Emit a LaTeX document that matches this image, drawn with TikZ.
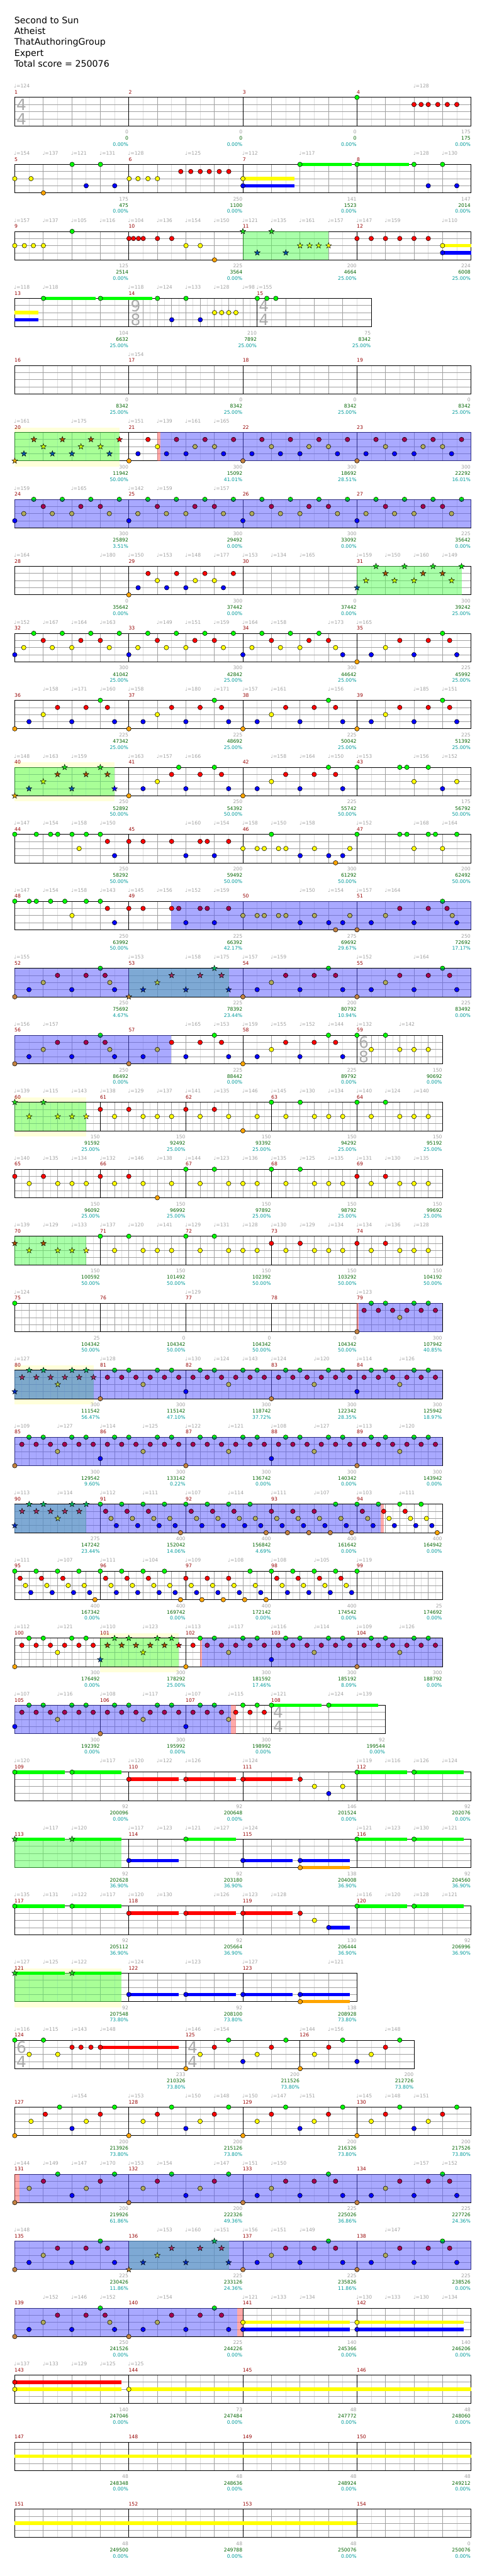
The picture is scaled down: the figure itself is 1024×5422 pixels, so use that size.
\documentclass[tikz,border=0pt]{standalone}
\usepackage{fontspec}
\setmainfont{DejaVu Sans}
\definecolor{cg}{RGB}{0,255,0}
\definecolor{cr}{RGB}{255,0,0}
\definecolor{cy}{RGB}{255,255,0}
\definecolor{cb}{RGB}{0,0,255}
\definecolor{co}{RGB}{255,165,0}
\definecolor{cGd}{RGB}{0,150,90}
\definecolor{cR}{RGB}{165,0,80}
\definecolor{cY}{RGB}{175,170,90}
\definecolor{cO}{RGB}{195,130,65}
\definecolor{csg}{RGB}{30,225,30}
\definecolor{csr}{RGB}{170,80,0}
\definecolor{csy}{RGB}{200,255,0}
\definecolor{csb}{RGB}{0,85,170}
\definecolor{cso}{RGB}{230,170,0}
\definecolor{ctg}{RGB}{0,185,90}
\definecolor{ctr}{RGB}{165,45,95}
\definecolor{cty}{RGB}{170,200,70}
\definecolor{ctb}{RGB}{0,45,190}
\definecolor{cto}{RGB}{200,140,50}
\definecolor{tgray}{RGB}{160,160,160}
\definecolor{mred}{RGB}{150,0,0}
\definecolor{dgreen}{RGB}{0,100,0}
\definecolor{tealc}{RGB}{0,155,155}
\definecolor{lgray}{RGB}{222,222,222}
\definecolor{dgray}{RGB}{160,160,160}
\definecolor{tsgray}{RGB}{170,170,170}
\definecolor{ovg}{RGB}{85,255,85}
\definecolor{ovb}{RGB}{85,85,255}
\definecolor{ovp}{RGB}{255,85,85}
\definecolor{ybg}{RGB}{255,255,218}
\tikzset{
 lightl/.style={draw=lgray, line width=0.9pt},
 darkl/.style={draw=dgray, line width=0.9pt},
 ml/.style={draw=black, line width=1pt},
 nt/.style={draw=black, line width=0.7pt},
 smallf/.style={font=\fontsize{10.2}{12}\selectfont, inner sep=0pt},
 tempo/.style={smallf, text=tgray, anchor=base west},
 mnum/.style={smallf, text=mred, anchor=base west},
 lba/.style={smallf, text=tgray, anchor=base east},
 lbb/.style={smallf, text=dgreen, anchor=base east},
 lbc/.style={smallf, text=tealc, anchor=base east},
 tsig/.style={font=\fontsize{33}{33}\selectfont, text=tsgray, inner sep=0pt, anchor=base west},
 ttl/.style={font=\fontsize{18.8}{22}\selectfont, inner sep=0pt, anchor=base west},
 greenov/.style={fill=ovg, fill opacity=0.5},
 blueov/.style={fill=ovb, fill opacity=0.5},
 pinkov/.style={fill=ovp, fill opacity=0.5},
 yellowbg/.style={fill=ybg},
 pics/dot/.style={code={\filldraw[nt,fill=#1] (0pt,0pt) circle[radius=4.8pt];}},
 pics/starp/.style={code={\filldraw[nt,line width=0.6pt,fill=#1] (90:6.3pt) -- (126:2.6pt) -- (162:6.3pt) -- (198:2.6pt) -- (234:6.3pt) -- (270:2.6pt) -- (306:6.3pt) -- (342:2.6pt) -- (18:6.3pt) -- (54:2.6pt) -- cycle;}},
 pics/ntg/.style={code={\pic{dot=cg};}},
 pics/ntr/.style={code={\pic{dot=cr};}},
 pics/nty/.style={code={\pic{dot=cy};}},
 pics/ntb/.style={code={\pic{dot=cb};}},
 pics/nto/.style={code={\pic{dot=co};}},
 pics/ntG/.style={code={\fill[cg] (-4.8pt,0pt) arc[start angle=180,end angle=0,radius=4.8pt] -- cycle; \fill[cGd] (4.8pt,0pt) arc[start angle=0,end angle=-180,radius=4.8pt] -- cycle; \draw[nt] (0pt,0pt) circle[radius=4.8pt];}},
 pics/ntR/.style={code={\pic{dot=cR};}},
 pics/ntY/.style={code={\pic{dot=cY};}},
 pics/ntB/.style={code={\pic{dot=cb};}},
 pics/ntO/.style={code={\pic{dot=cO};}},
 pics/ntsg/.style={code={\pic{starp=csg};}},
 pics/ntsr/.style={code={\pic{starp=csr};}},
 pics/ntsy/.style={code={\pic{starp=csy};}},
 pics/ntsb/.style={code={\pic{starp=csb};}},
 pics/ntso/.style={code={\pic{starp=cso};}},
 pics/ntpg/.style={code={\pic{starp=cg};}},
 pics/ntpr/.style={code={\pic{starp=cr};}},
 pics/ntpy/.style={code={\pic{starp=cy};}},
 pics/ntpb/.style={code={\pic{starp=cb};}},
 pics/nttg/.style={code={\pic{starp=ctg};}},
 pics/nttr/.style={code={\pic{starp=ctr};}},
 pics/ntty/.style={code={\pic{starp=cty};}},
 pics/nttb/.style={code={\pic{starp=ctb};}},
 pics/ntto/.style={code={\pic{starp=cto};}},
}
\def\lng{0}\def\lnr{15}\def\lny{30}\def\lnb{45}\def\lno{60}
\def\lnG{0}\def\lnR{15}\def\lnY{30}\def\lnB{45}\def\lnO{60}
\def\lnsg{0}\def\lnsr{15}\def\lnsy{30}\def\lnsb{45}\def\lnso{60}
\def\lnpg{0}\def\lnpr{15}\def\lnpy{30}\def\lnpb{45}
\def\lntg{0}\def\lntr{15}\def\lnty{30}\def\lntb{45}\def\lnto{60}
\newcount\nn
\newcommand\Mz[4]{%
 \pgfmathtruncatemacro\nA{#2/#3-1}%
 \foreach \kk in {1,...,\nA}{\draw[lightl] ({#1+\kk*#3},0) -- ({#1+\kk*#3},60);}%
 \pgfmathtruncatemacro\nB{#2/#4-1}%
 \foreach \kk in {1,...,\nB}{\draw[darkl] ({#1+\kk*#4},0) -- ({#1+\kk*#4},60);}%
}
\newcommand\Qm[1]{\Mz{#1}{240}{30}{60}}
\newcommand\Em[1]{\Mz{#1}{180}{15}{30}}
\newcommand\Fr[2]{%
 \foreach \lv in {15,30,45}{\draw[darkl] (31,\lv) -- (#1,\lv);}%
 \foreach \mx in {#2}{\draw[ml] (\mx,0) -- (\mx,60);}%
 \draw[ml] (31,0) rectangle (#1,60);}
\newcommand\Four{\Qm{31}\Qm{271}\Qm{511}\Qm{751}\Fr{991}{271,511,751}}
\newcommand\Five{\Em{31}\Em{211}\Em{391}\Em{571}\Em{751}\Fr{931}{211,391,571,751}}
\newcommand\Yb[2]{\fill[yellowbg] (#1,-10) rectangle (#2,72);}
\newcommand\Gr[2]{\fill[greenov] (#1,0) rectangle (#2,60);}
\newcommand\Bl[2]{\fill[blueov] (#1,0) rectangle (#2,60);}
\newcommand\Pk[2]{\fill[pinkov] (#1,0) rectangle (#2,60);}
\newcommand\ns[2]{\edef\yy{\csname ln#1\endcsname}\foreach \xx in {#2}{\pic at (\xx,\yy) {nt#1};}}
\newcommand\nso[3]{\edef\yy{\csname ln#1\endcsname}\foreach \xx in {#3}{\pic at ({#2+\xx},\yy) {nt#1};}}
\newcommand\su[3]{\edef\yy{\csname ln#1\endcsname}\fill[c#1] (#2,\yy-3.6) rectangle (#3,\yy+3.6);}
\newcommand\Gq[5]{\nso{#2}{#1}{0}\nso{#3}{#1}{11.25}\nso{#4}{#1}{22.5}\nso{#5}{#1}{33.75}}
\newcommand\TS[3]{\global\advance\nn1 \node[tsig] (n\the\nn) at (#1+3.5,27.3) {#2};\global\advance\nn1 \node[tsig] (n\the\nn) at (#1+3.5,57.3) {#3};}
\newcommand\Tp[2]{\global\advance\nn1 \node[tempo] (n\the\nn) at (#1-1.5,-19.7) {♩=#2};}
\newcommand\Mn[2]{\global\advance\nn1 \node[mnum] (n\the\nn) at (#1-0.5,-7) {#2};}
\newcommand\Lb[4]{\global\advance\nn1 \node[lba] (n\the\nn) at (#1-0.8,76.7) {#2};\global\advance\nn1 \node[lbb] (n\the\nn) at (#1-0.8,90) {#3};\global\advance\nn1 \node[lbc] (n\the\nn) at (#1-0.8,102.7) {#4\%};}
\newcommand\PAn[1]{\nso{b}{#1}{0}\nso{y}{#1}{19,79,120,199}\nso{g}{#1}{40,100,160,220}\nso{r}{#1}{60,139,180}}
\newcommand\PAo[1]{\nso{B}{#1}{0}\nso{Y}{#1}{19,79,120,199}\nso{G}{#1}{40,100,160,220}\nso{R}{#1}{60,139,180}}
\newcommand\PBn[1]{\nso{o}{#1}{0}\nso{b}{#1}{30,120,210}\nso{y}{#1}{60}\nso{r}{#1}{90,150,195}\nso{g}{#1}{180}}
\newcommand\PBo[1]{\nso{O}{#1}{0}\nso{B}{#1}{30,120,210}\nso{Y}{#1}{60}\nso{R}{#1}{90,150,195}\nso{G}{#1}{180}}
\newcommand\PCo[1]{\nso{O}{#1}{0}\nso{B}{#1}{30,120,210}\nso{Y}{#1}{60,200}\nso{R}{#1}{90,150,190}\nso{G}{#1}{180}}
\newcommand\PDn[1]{\nso{r}{#1}{15,45,75,105,135,165}\nso{g}{#1}{30,60,120,150}\nso{y}{#1}{90}}
\newcommand\PDo[1]{\nso{R}{#1}{15,45,75,105,135,165}\nso{G}{#1}{30,60,120,150}\nso{Y}{#1}{90}}
\newcommand\PEo[1]{\nso{O}{#1}{0}\nso{B}{#1}{19,79,120,199}\nso{R}{#1}{40,100,160,220}\nso{Y}{#1}{60,139,180}}
\begin{document}
\begin{tikzpicture}[x=1pt,y=-1pt]
\fill[white] (0,0) rectangle (1024,5422);
\useasboundingbox (0,0) rectangle (1024,5422);
\node[ttl] (t1) at (30,49.3) {Second to Sun};
\node[ttl] (t2) at (30,72.3) {Atheist};
\node[ttl] (t3) at (30,95.3) {ThatAuthoringGroup};
\node[ttl] (t4) at (30,118.3) {Expert};
\node[ttl] (t5) at (30,141.3) {Total score = 250076};
% row 0
\begin{scope}[shift={(0,205)}]
\Four\TS{31}{4}{4}
\ns{g}{751}\ns{r}{871,886,901,921,941,961}
\Tp{31}{124}\Tp{871}{128}
\Mn{31}{1}\Mn{271}{2}\Mn{511}{3}\Mn{751}{4}
\Lb{271}{0}{0}{0.00}\Lb{511}{0}{0}{0.00}\Lb{751}{0}{0}{0.00}\Lb{991}{175}{175}{0.00}
\end{scope}
% row 1
\begin{scope}[shift={(0,346)}]
\Four
\su{y}{511}{620}\su{b}{511}{620}\su{g}{631}{740}\su{g}{751}{860}
\ns{y}{31,65.3,271.7,290.3,311.3,331.3,511}\ns{g}{151.7,211.3,631,751,871,931}
\ns{b}{181.3,241.3,511,901,961}\ns{o}{91.3}\ns{r}{380.3,401.3,421.3,440.3,461.3,481.3}
\Tp{31}{154}\Tp{91}{137}\Tp{151}{121}\Tp{211}{131}\Tp{271}{128}\Tp{391}{125}\Tp{511}{112}\Tp{631}{117}\Tp{871}{128}\Tp{931}{130}
\Mn{31}{5}\Mn{271}{6}\Mn{511}{7}\Mn{751}{8}
\Lb{271}{175}{475}{0.00}\Lb{511}{250}{1100}{0.00}\Lb{751}{141}{1523}{0.00}\Lb{991}{147}{2014}{0.00}
\end{scope}
% row 2
\begin{scope}[shift={(0,487)}]
\Four\Gr{511}{691.3}
\su{y}{931}{991}\su{b}{931}{991}
\ns{y}{31,51.3,70.3,91.3,391.3,421.3,931}\ns{g}{151.7}
\ns{r}{271.3,280.7,291.3,301.3,331.3,361.3,751,781,811,841,871,901}\ns{o}{451.3}\ns{b}{931}
\ns{sg}{511,571.3}\ns{sb}{541.3,601.3}\ns{sy}{631.3,651.3,670.3}\ns{py}{691.3}
\Tp{31}{157}\Tp{91}{137}\Tp{151}{105}\Tp{211}{116}\Tp{271}{104}\Tp{331}{136}\Tp{391}{154}\Tp{451}{150}\Tp{511}{121}\Tp{571}{135}\Tp{631}{161}\Tp{691}{157}\Tp{751}{147}\Tp{811}{159}\Tp{931}{110}
\Mn{31}{9}\Mn{271}{10}\Mn{511}{11}\Mn{751}{12}
\Lb{271}{125}{2514}{0.00}\Lb{511}{225}{3564}{0.00}\Lb{751}{200}{4664}{25.00}\Lb{991}{224}{6008}{25.00}
\end{scope}
% row 3
\begin{scope}[shift={(0,628)}]
\Qm{31}\Mz{271}{270}{15}{30}\Qm{541}\Fr{781}{271,541}\TS{271}{9}{8}\TS{541}{4}{4}
\su{y}{31}{81}\su{b}{31}{81}\su{g}{91.3}{201}\su{g}{211.3}{321}
\ns{g}{91.3,211.3,331.3,391.3,541.3,561.3,580.3}\ns{b}{361.3,421.3}\ns{y}{451.3,466.3,481.3,496.3}
\Tp{31}{118}\Tp{91}{118}\Tp{271}{118}\Tp{331}{124}\Tp{391}{133}\Tp{451}{128}\Tp{511}{98}\Tp{541}{155}
\Mn{31}{13}\Mn{271}{14}\Mn{541}{15}
\Lb{271}{104}{6632}{25.00}\Lb{541}{210}{7892}{25.00}\Lb{781}{75}{8342}{25.00}
\end{scope}
% row 4
\begin{scope}[shift={(0,769)}]
\Four
\Tp{271}{154}
\Mn{31}{16}\Mn{271}{17}\Mn{511}{18}\Mn{751}{19}
\Lb{271}{0}{8342}{25.00}\Lb{511}{0}{8342}{25.00}\Lb{751}{0}{8342}{25.00}\Lb{991}{0}{8342}{25.00}
\end{scope}
% row 5
\begin{scope}[shift={(0,910)}]
\Yb{31}{251}\Four\Gr{31}{251}\Pk{331.3}{337.7}\Bl{337.7}{991}
\ns{so}{31}\ns{sb}{50.3,110.3,151.3,230.3}\ns{sr}{71.3,131.3,191.3}\ns{sy}{91.3,170.3,211.3}\ns{pr}{251.3}
\ns{o}{271.3}\ns{b}{290.3}\ns{r}{311.3}\ns{y}{331.3}\ns{B}{350.3,391.3,470.3}\ns{R}{371.3,431.3,491.3}\ns{Y}{410.3,451.3}
\PEo{511}\PEo{751}
\Tp{31}{161}\Tp{151}{175}\Tp{271}{151}\Tp{331}{139}\Tp{391}{161}\Tp{451}{165}
\Mn{31}{20}\Mn{271}{21}\Mn{511}{22}\Mn{751}{23}
\Lb{271}{300}{11942}{50.00}\Lb{511}{300}{15092}{41.01}\Lb{751}{300}{18692}{28.51}\Lb{991}{300}{22292}{16.01}
\end{scope}
% row 6
\begin{scope}[shift={(0,1051)}]
\Four\Bl{31}{991}
\PAo{31}\PAo{271}\PAo{511}\PAo{751}
\Tp{31}{159}\Tp{151}{165}\Tp{271}{142}\Tp{331}{159}\Tp{451}{157}
\Mn{31}{24}\Mn{271}{25}\Mn{511}{26}\Mn{751}{27}
\Lb{271}{300}{25892}{3.51}\Lb{511}{300}{29492}{0.00}\Lb{751}{300}{33092}{0.00}\Lb{991}{225}{35642}{0.00}
\end{scope}
% row 7
\begin{scope}[shift={(0,1192)}]
\Four\Gr{751}{971}
\ns{o}{271}\ns{b}{290.6,350.7,391,470}\ns{r}{311.5,371.6,431,491}\ns{y}{331,410.8,451}
\nso{sb}{751}{0}\nso{sy}{751}{19,79,120,199}\nso{sg}{751}{40,100,160}\nso{sr}{751}{60,139,180}\ns{pg}{971}
\Tp{31}{164}\Tp{211.6}{180}\Tp{271}{150}\Tp{331}{153}\Tp{391}{148}\Tp{451}{177}\Tp{511}{153}\Tp{571}{134}\Tp{631.5}{165}\Tp{751}{159}\Tp{811}{150}\Tp{871}{160}\Tp{931}{149}
\Mn{31}{28}\Mn{271}{29}\Mn{511}{30}\Mn{751}{31}
\Lb{271}{0}{35642}{0.00}\Lb{511}{300}{37442}{0.00}\Lb{751}{0}{37442}{0.00}\Lb{991}{300}{39242}{25.00}
\end{scope}
% row 8
\begin{scope}[shift={(0,1333)}]
\Four
\PAn{31}\PAn{271}
\nso{b}{511}{0,210}\nso{y}{511}{19,79,120,195}\nso{g}{511}{40,100,160}\nso{r}{511}{60,139,180}
\PBn{751}
\Tp{31}{152}\Tp{91.4}{167}\Tp{151.5}{164}\Tp{211.6}{163}\Tp{331}{149}\Tp{391}{151}\Tp{451}{159}\Tp{511}{164}\Tp{571}{158}\Tp{691.6}{173}\Tp{751}{165}
\Mn{31}{32}\Mn{271}{33}\Mn{511}{34}\Mn{751}{35}
\Lb{271}{300}{41042}{25.00}\Lb{511}{300}{42842}{25.00}\Lb{751}{300}{44642}{25.00}\Lb{991}{225}{45992}{25.00}
\end{scope}
% row 9
\begin{scope}[shift={(0,1474)}]
\Four
\PBn{31}\PBn{271}\PBn{511}\PBn{751}
\Tp{91.4}{158}\Tp{151.5}{171}\Tp{211.6}{160}\Tp{271}{158}\Tp{391}{180}\Tp{451}{171}\Tp{511}{157}\Tp{571}{161}\Tp{691.6}{156}\Tp{871}{185}\Tp{931}{151}
\Mn{31}{36}\Mn{271}{37}\Mn{511}{38}\Mn{751}{39}
\Lb{271}{225}{47342}{25.00}\Lb{511}{225}{48692}{25.00}\Lb{751}{225}{50042}{25.00}\Lb{991}{225}{51392}{25.00}
\end{scope}
% row 10
\begin{scope}[shift={(0,1615)}]
\Yb{31}{241}\Four\Gr{31}{241}
\nso{so}{31}{0}\nso{sb}{31}{30,120}\nso{sy}{31}{60}\nso{sr}{31}{90,150,195}\nso{sg}{31}{105,180}\ns{pb}{241}
\PBn{271}\ns{g}{376}\PBn{511}
\ns{g}{751,841,856,901}\ns{y}{871,961}\ns{b}{931}
\Tp{31}{148}\Tp{91.4}{163}\Tp{151.5}{159}\Tp{271}{163}\Tp{331}{157}\Tp{391}{166}\Tp{571}{158}\Tp{631.5}{164}\Tp{691.6}{150}\Tp{751}{153}\Tp{871}{156}\Tp{931}{152}
\Mn{31}{40}\Mn{271}{41}\Mn{511}{42}\Mn{751}{43}
\Lb{271}{250}{52892}{50.00}\Lb{511}{250}{54392}{50.00}\Lb{751}{225}{55742}{50.00}\Lb{991}{175}{56792}{50.00}
\end{scope}
% row 11
\begin{scope}[shift={(0,1756)}]
\Four
\ns{g}{31,76.4,106.4,121.5,151.5,181.5,211,571,751,841,856,901,916,961}
\ns{y}{166.5,511,541,556,586,601.5,661.6,736,871,931}
\ns{r}{226,271,301,361,421,436,481}\ns{b}{241,391,451,631.5,691.6,721}\ns{o}{706}
\Tp{31}{147}\Tp{91.4}{154}\Tp{151.5}{158}\Tp{211.6}{150}\Tp{391}{160}\Tp{451}{154}\Tp{511}{158}\Tp{571}{150}\Tp{631.5}{158}\Tp{751}{152}\Tp{871}{168}\Tp{931}{164}
\Mn{31}{44}\Mn{271}{45}\Mn{511}{46}\Mn{751}{47}
\Lb{271}{250}{58292}{50.00}\Lb{511}{200}{59492}{50.00}\Lb{751}{300}{61292}{50.00}\Lb{991}{200}{62492}{50.00}
\end{scope}
% row 12
\begin{scope}[shift={(0,1897)}]
\Four\Bl{360}{991}
\ns{g}{31,61.4,76.4,106.4,136.5,181.5,211}\ns{y}{151.5}\ns{r}{226,271,301,361}\ns{b}{241}
\ns{R}{376,421,436,481,841,901,940.4}\ns{B}{391,451,631.5,691.6,721,781,871,961}
\ns{Y}{511,541,556,586,601.5,661.6,736,811,951.5}\ns{O}{706,751}\ns{G}{931}
\Tp{31}{147}\Tp{91.4}{154}\Tp{151.5}{158}\Tp{211.6}{143}\Tp{271}{145}\Tp{331}{156}\Tp{391}{152}\Tp{451}{159}\Tp{631.5}{150}\Tp{691.6}{154}\Tp{751}{157}\Tp{811}{164}
\Mn{31}{48}\Mn{271}{49}\Mn{511}{50}\Mn{751}{51}
\Lb{271}{250}{63992}{50.00}\Lb{511}{225}{66392}{42.17}\Lb{751}{275}{69692}{29.67}\Lb{991}{250}{72692}{17.17}
\end{scope}
% row 13
\begin{scope}[shift={(0,2038)}]
\Four\Gr{271}{482}\Bl{31}{991}
\PCo{31}
\ns{to}{271}\ns{tb}{301,391,481}\ns{ty}{331}\ns{tr}{361,421,466}\ns{tg}{451}
\PBo{511}\PBo{751}
\Tp{31}{155}\Tp{271}{153}\Tp{391}{158}\Tp{451}{175}\Tp{511}{157}\Tp{571}{159}\Tp{751}{152}\Tp{871}{164}
\Mn{31}{52}\Mn{271}{53}\Mn{511}{54}\Mn{751}{55}
\Lb{271}{250}{75692}{4.67}\Lb{511}{225}{78392}{23.44}\Lb{751}{200}{80792}{10.94}\Lb{991}{225}{83492}{0.00}
\end{scope}
% row 14
\begin{scope}[shift={(0,2179)}]
\Qm{31}\Qm{271}\Qm{511}\Em{751}\Fr{931}{271,511,751}\TS{751}{6}{8}\Bl{31}{360}
\PCo{31}
\ns{O}{271}\ns{B}{301}\ns{Y}{331}\ns{r}{361,421,466}\ns{b}{391,481}\ns{g}{451}
\PBn{511}
\ns{g}{751,811}\ns{y}{781,841,871,901}
\Tp{31}{156}\Tp{91.4}{157}\Tp{391}{165}\Tp{451}{153}\Tp{511}{159}\Tp{571}{155}\Tp{631.5}{152}\Tp{691.6}{144}\Tp{751}{132}\Tp{841}{142}
\Mn{31}{56}\Mn{271}{57}\Mn{511}{58}\Mn{751}{59}
\Lb{271}{250}{86492}{0.00}\Lb{511}{225}{88442}{0.00}\Lb{751}{225}{89792}{0.00}\Lb{931}{150}{90692}{0.00}
\end{scope}
% row 15
\begin{scope}[shift={(0,2320)}]
\Yb{31}{181.5}\Five\Gr{31}{181.5}
\ns{sg}{31,91.4}\ns{sy}{61.4,121.5,151.5}\ns{py}{181.5}
\ns{r}{211,271,391,451}\ns{y}{241,301,331,361,421,481,541,601.5,661.6,691.6,721,781,841,871,901}\ns{o}{511}\ns{g}{571,631.5,751,811}
\Tp{31}{139}\Tp{91.4}{115}\Tp{151.5}{143}\Tp{211.6}{138}\Tp{271}{129}\Tp{331}{137}\Tp{391}{141}\Tp{451}{135}\Tp{511}{146}\Tp{571}{145}\Tp{631.5}{130}\Tp{691.6}{134}\Tp{751}{140}\Tp{811}{124}\Tp{871}{140}
\Mn{31}{60}\Mn{211}{61}\Mn{391}{62}\Mn{571}{63}\Mn{751}{64}
\Lb{211}{150}{91592}{25.00}\Lb{391}{150}{92492}{25.00}\Lb{571}{150}{93392}{25.00}\Lb{751}{150}{94292}{25.00}\Lb{931}{150}{95192}{25.00}
\end{scope}
% row 16
\begin{scope}[shift={(0,2461)}]
\Five
\ns{r}{31,91.4,211,271,751,811}
\ns{y}{61.4,121.5,151.5,181.5,241,301,361,421,481,511,541,601.5,661.6,691.6,721,781,841,871,901}
\ns{o}{331}\ns{g}{391,451,571,631.5}
\Tp{31}{140}\Tp{91.4}{135}\Tp{151.5}{134}\Tp{211.6}{132}\Tp{271}{146}\Tp{331}{138}\Tp{391}{144}\Tp{451}{123}\Tp{511}{136}\Tp{571}{135}\Tp{631.5}{125}\Tp{691.6}{135}\Tp{751}{131}\Tp{811}{130}\Tp{871}{135}
\Mn{31}{65}\Mn{211}{66}\Mn{391}{67}\Mn{571}{68}\Mn{751}{69}
\Lb{211}{150}{96092}{25.00}\Lb{391}{150}{96992}{25.00}\Lb{571}{150}{97892}{25.00}\Lb{751}{150}{98792}{25.00}\Lb{931}{150}{99692}{25.00}
\end{scope}
% row 17
\begin{scope}[shift={(0,2602)}]
\Five\Gr{31}{181.5}
\ns{sr}{31,91.4}\ns{sy}{61.4,121.5,151.5}\ns{py}{181.5}
\ns{g}{211,271,391,451}\ns{r}{571,631.5,751,811}
\ns{y}{241,301,331,361,421,481,511,541,601.5,661.6,691.6,721,781,841,871,901}
\Tp{31}{139}\Tp{91.4}{129}\Tp{151.5}{133}\Tp{211.6}{137}\Tp{271}{120}\Tp{331}{141}\Tp{391}{129}\Tp{451}{131}\Tp{511}{128}\Tp{571}{130}\Tp{631.5}{129}\Tp{691.6}{134}\Tp{751}{134}\Tp{811}{136}\Tp{871}{128}
\Mn{31}{70}\Mn{211}{71}\Mn{391}{72}\Mn{571}{73}\Mn{751}{74}
\Lb{211}{150}{100592}{50.00}\Lb{391}{150}{101492}{50.00}\Lb{571}{150}{102392}{50.00}\Lb{751}{150}{103292}{50.00}\Lb{931}{150}{104192}{50.00}
\end{scope}
% row 18
\begin{scope}[shift={(0,2743)}]
\Five\Pk{751}{755}\Bl{755}{931}
\ns{g}{31}\ns{O}{751}\ns{G}{781,811,871,901}\ns{R}{766,796,826,856,886,916}\ns{Y}{841}
\Tp{31}{124}\Tp{391}{129}\Tp{751}{123}
\Mn{31}{75}\Mn{211}{76}\Mn{391}{77}\Mn{571}{78}\Mn{751}{79}
\Lb{211}{25}{104342}{50.00}\Lb{391}{0}{104342}{50.00}\Lb{571}{0}{104342}{50.00}\Lb{751}{0}{104342}{50.00}\Lb{931}{300}{107942}{40.85}
\end{scope}
% row 19
\begin{scope}[shift={(0,2884)}]
\Yb{31}{196.6}\Five\Gr{31}{196.6}\Bl{31}{931}
\ns{tb}{31}\ns{tg}{61.4,91.4,151.5,181.5}\ns{tr}{46.4,76.4,106.4,136.5,166.5,196.6}\ns{ty}{121.5}
\ns{O}{211}\PDo{211}\ns{B}{391}\PDo{391}\ns{O}{571}\PDo{571}\ns{B}{751}\PDo{751}
\Tp{31}{127}\Tp{211.6}{128}\Tp{391}{130}\Tp{451}{124}\Tp{511}{143}\Tp{571}{124}\Tp{661.6}{120}\Tp{751}{114}\Tp{841}{126}
\Mn{31}{80}\Mn{211}{81}\Mn{391}{82}\Mn{571}{83}\Mn{751}{84}
\Lb{211}{300}{111542}{56.47}\Lb{391}{300}{115142}{47.10}\Lb{571}{300}{118742}{37.72}\Lb{751}{300}{122342}{28.35}\Lb{931}{300}{125942}{18.97}
\end{scope}
% row 20
\begin{scope}[shift={(0,3025)}]
\Five\Bl{31}{931}
\ns{O}{31}\PDo{31}\ns{B}{211}\PDo{211}\ns{O}{391}\PDo{391}\ns{B}{571}\PDo{571}\ns{O}{751}\PDo{751}
\Tp{31}{109}\Tp{121.5}{127}\Tp{211.6}{114}\Tp{301}{125}\Tp{391}{122}\Tp{481}{121}\Tp{571}{108}\Tp{661.6}{127}\Tp{751}{113}\Tp{841}{120}
\Mn{31}{85}\Mn{211}{86}\Mn{391}{87}\Mn{571}{88}\Mn{751}{89}
\Lb{211}{300}{129542}{9.60}\Lb{391}{300}{133142}{0.22}\Lb{571}{300}{136742}{0.00}\Lb{751}{300}{140342}{0.00}\Lb{931}{300}{143942}{0.00}
\end{scope}
% row 21
\begin{scope}[shift={(0,3166)}]
\Five\Gr{31}{181.5}\Bl{31}{800.7}\Pk{800.7}{807}
\ns{tb}{31}\ns{tg}{61.4,91.4,151.5,181.5}\ns{tr}{46.4,76.4,106.4,136.5,166.5}\ns{ty}{121.5}
\Gq{211}{G}{R}{Y}{B}\Gq{256}{G}{R}{Y}{B}\Gq{301}{G}{R}{Y}{B}\Gq{346}{G}{Y}{B}{O}
\Gq{391}{G}{R}{Y}{B}\Gq{436}{G}{R}{Y}{B}\Gq{481}{G}{R}{Y}{B}\Gq{526}{G}{Y}{B}{O}
\Gq{571}{R}{Y}{B}{O}\Gq{616}{R}{Y}{B}{O}\Gq{661}{R}{Y}{B}{O}\Gq{706}{G}{Y}{B}{O}
\Gq{751}{G}{R}{Y}{B}\ns{G}{796}\nso{r}{796}{11.25}\nso{y}{796}{22.5}\nso{b}{796}{33.75}\Gq{841}{g}{r}{y}{b}\Gq{886}{g}{y}{b}{o}
\Tp{31}{113}\Tp{121.5}{114}\Tp{211.6}{112}\Tp{301}{111}\Tp{391}{107}\Tp{481}{114}\Tp{571}{111}\Tp{661.6}{107}\Tp{751}{103}\Tp{841}{111}
\Mn{31}{90}\Mn{211}{91}\Mn{391}{92}\Mn{571}{93}\Mn{751}{94}
\Lb{211}{275}{147242}{23.44}\Lb{391}{400}{152042}{14.06}\Lb{571}{400}{156842}{4.69}\Lb{751}{400}{161642}{0.00}\Lb{931}{400}{164942}{0.00}
\end{scope}
% row 22
\begin{scope}[shift={(0,3307)}]
\Five
\Gq{31}{g}{r}{y}{b}\Gq{76}{g}{r}{y}{b}\Gq{121}{g}{r}{y}{b}\Gq{166}{g}{y}{b}{o}
\Gq{211}{g}{r}{y}{b}\Gq{256}{g}{r}{y}{b}\Gq{301}{g}{r}{y}{b}\Gq{346}{g}{y}{b}{o}
\Gq{391}{r}{y}{b}{o}\Gq{436}{r}{y}{b}{o}\Gq{481}{r}{y}{b}{o}\Gq{526}{g}{y}{b}{o}
\Gq{571}{g}{r}{y}{b}\Gq{616}{g}{r}{y}{b}\Gq{661}{g}{r}{y}{b}\Gq{706}{g}{r}{y}{b}
\ns{g}{751}
\Tp{31}{111}\Tp{121.5}{107}\Tp{211.6}{111}\Tp{301}{104}\Tp{391}{109}\Tp{481}{108}\Tp{571}{108}\Tp{661.6}{105}\Tp{751}{119}
\Mn{31}{95}\Mn{211}{96}\Mn{391}{97}\Mn{571}{98}\Mn{751}{99}
\Lb{211}{400}{167342}{0.00}\Lb{391}{400}{169742}{0.00}\Lb{571}{400}{172142}{0.00}\Lb{751}{400}{174542}{0.00}\Lb{931}{25}{174692}{0.00}
\end{scope}
% row 23
\begin{scope}[shift={(0,3448)}]
\Yb{211}{376}\Five\Gr{211}{376}\Pk{421}{425}\Bl{425}{931}
\ns{o}{31}\PDn{31}
\nso{sb}{211}{0}\nso{sg}{211}{30,60,120,150}\nso{sr}{211}{15,45,75,105,135}\nso{sy}{211}{90}\ns{pr}{376}
\ns{o}{391}\ns{r}{406}\ns{g}{421}\nso{R}{391}{45,75,105,135,165}\nso{G}{391}{60,120,150}\nso{Y}{391}{90}
\ns{B}{571}\PDo{571}\ns{O}{751}\PDo{751}
\Tp{31}{112}\Tp{121.5}{121}\Tp{211.6}{110}\Tp{301}{123}\Tp{391}{113}\Tp{481}{117}\Tp{571}{116}\Tp{661.6}{114}\Tp{751}{109}\Tp{841}{126}
\Mn{31}{100}\Mn{211}{101}\Mn{391}{102}\Mn{571}{103}\Mn{751}{104}
\Lb{211}{300}{176492}{0.00}\Lb{391}{300}{178292}{25.00}\Lb{571}{300}{181592}{17.46}\Lb{751}{300}{185192}{8.09}\Lb{931}{300}{188792}{0.00}
\end{scope}
% row 24
\begin{scope}[shift={(0,3589)}]
\Em{31}\Em{211}\Em{391}\Qm{571}\Fr{811}{211,391,571}\TS{571}{4}{4}\Bl{31}{486}\Pk{486}{496}
\ns{B}{31}\PDo{31}\ns{O}{211}\PDo{211}
\ns{B}{391}\nso{R}{391}{15,45,75}\nso{G}{391}{30,60}\nso{Y}{391}{90}\nso{r}{391}{105,135,165}\nso{g}{391}{120,150}
\su{g}{571}{676}\su{g}{691.6}{796}\ns{g}{571,691.6}
\Tp{31}{107}\Tp{121.5}{116}\Tp{211.6}{108}\Tp{301}{117}\Tp{391}{107}\Tp{481}{115}\Tp{571}{121}\Tp{691.6}{124}\Tp{751}{139}
\Mn{31}{105}\Mn{211}{106}\Mn{391}{107}\Mn{571}{108}
\Lb{211}{300}{192392}{0.00}\Lb{391}{300}{195992}{0.00}\Lb{571}{300}{198992}{0.00}\Lb{811}{92}{199544}{0.00}
\end{scope}
% row 25
\begin{scope}[shift={(0,3730)}]
\Four
\su{g}{31}{136}\su{g}{151.5}{256}\su{r}{271}{376}\su{r}{391}{496}\su{r}{511}{616}\su{g}{751}{856}\su{g}{871}{976}
\ns{g}{31,151.5,751,871}\ns{r}{271,391,511,631.5}\ns{y}{661.6,721}\ns{b}{691.6}
\Tp{31}{120}\Tp{211.6}{117}\Tp{271}{120}\Tp{331}{122}\Tp{391}{126}\Tp{511}{124}\Tp{751}{119}\Tp{811}{116}\Tp{871}{126}\Tp{931}{124}
\Mn{31}{109}\Mn{271}{110}\Mn{511}{111}\Mn{751}{112}
\Lb{271}{92}{200096}{0.00}\Lb{511}{92}{200648}{0.00}\Lb{751}{146}{201524}{0.00}\Lb{991}{92}{202076}{0.00}
\end{scope}
% row 26
\begin{scope}[shift={(0,3871)}]
\Four\Gr{31}{256}
\su{g}{31}{136}\su{g}{151.5}{256}\ns{sg}{31,151.5}
\su{b}{271}{376}\su{g}{391}{496}\su{b}{511}{616}\su{b}{631.5}{736}\su{o}{631.5}{736}\su{g}{751}{856}\su{g}{871}{976}
\ns{b}{271,511,631.5}\ns{g}{391,751,871}\ns{o}{631.5}
\Tp{91.4}{117}\Tp{151.5}{120}\Tp{271}{117}\Tp{331}{123}\Tp{391}{121}\Tp{451}{127}\Tp{511}{124}\Tp{751}{121}\Tp{811}{123}\Tp{871}{130}\Tp{931}{121}
\Mn{31}{113}\Mn{271}{114}\Mn{511}{115}\Mn{751}{116}
\Lb{271}{92}{202628}{36.90}\Lb{511}{92}{203180}{36.90}\Lb{751}{138}{204008}{36.90}\Lb{991}{92}{204560}{36.90}
\end{scope}
% row 27
\begin{scope}[shift={(0,4012)}]
\Four
\su{g}{31}{136}\su{g}{151.5}{256}\su{r}{271}{376}\su{r}{391}{496}\su{r}{511}{616}\su{b}{691.6}{736}\su{g}{751}{856}\su{g}{871}{976}
\ns{g}{31,151.5,751,871}\ns{r}{271,391,511,631.5}\ns{y}{661.6}\ns{b}{691.6}
\Tp{31}{135}\Tp{91.4}{131}\Tp{151.5}{122}\Tp{211.6}{117}\Tp{271}{120}\Tp{331}{130}\Tp{451}{126}\Tp{511}{123}\Tp{571}{128}\Tp{751}{116}\Tp{811}{120}\Tp{871}{128}\Tp{931}{121}
\Mn{31}{117}\Mn{271}{118}\Mn{511}{119}\Mn{751}{120}
\Lb{271}{92}{205112}{36.90}\Lb{511}{92}{205664}{36.90}\Lb{751}{130}{206444}{36.90}\Lb{991}{92}{206996}{36.90}
\end{scope}
% row 28
\begin{scope}[shift={(0,4153)}]
\Yb{31}{256}\Qm{31}\Qm{271}\Qm{511}\Fr{751}{271,511}\Gr{31}{256}
\su{g}{31}{136}\su{g}{151.5}{256}\ns{sg}{31,151.5}
\su{b}{271}{376}\su{b}{391}{496}\su{b}{511}{616}\su{b}{631.5}{736}\su{o}{631.5}{736}
\ns{b}{271,391,511,631.5}\ns{o}{631.5}
\Tp{31}{127}\Tp{91.4}{125}\Tp{151.5}{122}\Tp{271}{124}\Tp{391}{123}\Tp{511}{127}\Tp{691.6}{121}
\Mn{31}{121}\Mn{271}{122}\Mn{511}{123}
\Lb{271}{92}{207548}{73.80}\Lb{511}{92}{208100}{73.80}\Lb{751}{138}{208928}{73.80}
\end{scope}
% row 29
\begin{scope}[shift={(0,4294)}]
\Mz{31}{360}{30}{60}\Qm{391}\Qm{631}\Fr{871}{391,631}\TS{31}{6}{4}\TS{391}{4}{4}
\su{r}{211}{376}
\ns{g}{31,91.4,481,601.5,721,841}\ns{y}{61.4,121.5,421,541,661.6,781}\ns{r}{151.5,170.4,191.3,211,451,571,691.6,811}\ns{o}{391,631.5}\ns{b}{511,751}
\Tp{31}{116}\Tp{91.4}{115}\Tp{151.5}{143}\Tp{211.6}{148}\Tp{391}{146}\Tp{451}{154}\Tp{631.5}{144}\Tp{691.6}{156}\Tp{811}{148}
\Mn{31}{124}\Mn{391}{125}\Mn{631}{126}
\Lb{391}{233}{210326}{73.80}\Lb{631}{200}{211526}{73.80}\Lb{871}{200}{212726}{73.80}
\end{scope}
% row 30
\begin{scope}[shift={(0,4435)}]
\Four
\ns{o}{31,271,511,751}\ns{y}{65.3,181.5}\ns{r}{95.3,211}\ns{g}{125.4,241}\ns{b}{151.5}
\foreach \M in {271,511,751}{\nso{y}{\M}{30,150}\nso{r}{\M}{60,180}\nso{g}{\M}{90,210}\nso{b}{\M}{120}}
\Tp{151.5}{154}\Tp{271}{153}\Tp{391}{150}\Tp{451}{148}\Tp{511}{150}\Tp{571}{147}\Tp{631.5}{151}\Tp{751}{145}\Tp{811}{148}\Tp{871}{151}
\Mn{31}{127}\Mn{271}{128}\Mn{511}{129}\Mn{751}{130}
\Lb{271}{200}{213926}{73.80}\Lb{511}{200}{215126}{73.80}\Lb{751}{200}{216326}{73.80}\Lb{991}{200}{217526}{73.80}
\end{scope}
% row 31
\begin{scope}[shift={(0,4576)}]
\Four\Pk{31}{41}\Bl{41}{991}
\ns{O}{31}\ns{Y}{61.4,181.5}\ns{R}{91.4,211}\ns{G}{121.5,241}\ns{B}{151.5}
\ns{O}{271}\nso{Y}{271}{30,150}\nso{R}{271}{60,180}\nso{G}{271}{90,210}\nso{B}{271}{120}
\PBo{511}\PBo{751}
\Tp{31}{144}\Tp{91.4}{149}\Tp{151.5}{147}\Tp{211.6}{170}\Tp{271}{153}\Tp{331}{154}\Tp{451}{147}\Tp{511}{151}\Tp{571}{150}\Tp{871}{157}\Tp{931}{152}
\Mn{31}{131}\Mn{271}{132}\Mn{511}{133}\Mn{751}{134}
\Lb{271}{200}{219926}{61.86}\Lb{511}{200}{222326}{49.36}\Lb{751}{225}{225026}{36.86}\Lb{991}{225}{227726}{24.36}
\end{scope}
% row 32
\begin{scope}[shift={(0,4717)}]
\Four\Gr{271}{482}\Bl{31}{991}
\PBo{31}
\ns{to}{271}\ns{tb}{301,391,481}\ns{ty}{331}\ns{tr}{361,421,466}\ns{tg}{451}
\PBo{511}\PBo{751}
\Tp{31}{148}\Tp{331}{153}\Tp{391}{160}\Tp{451}{151}\Tp{511}{156}\Tp{571}{151}\Tp{631.5}{149}\Tp{811}{147}
\Mn{31}{135}\Mn{271}{136}\Mn{511}{137}\Mn{751}{138}
\Lb{271}{225}{230426}{11.86}\Lb{511}{225}{233126}{24.36}\Lb{751}{225}{235826}{11.86}\Lb{991}{225}{238526}{0.00}
\end{scope}
% row 33
\begin{scope}[shift={(0,4858)}]
\Four\Bl{31}{499}\Pk{499}{511}
\PCo{31}\PBo{271}
\su{y}{511}{736}\su{b}{511}{736}\su{y}{751}{976}\su{b}{751}{976}\ns{y}{511,751}\ns{b}{511,751}
\Tp{91.4}{152}\Tp{151.5}{146}\Tp{211.6}{152}\Tp{331}{154}\Tp{511}{121}\Tp{571}{133}\Tp{631.5}{134}\Tp{751}{130}\Tp{811}{133}\Tp{871}{130}\Tp{931}{134}
\Mn{31}{139}\Mn{271}{140}\Mn{511}{141}\Mn{751}{142}
\Lb{271}{250}{241526}{0.00}\Lb{511}{225}{244226}{0.00}\Lb{751}{140}{245366}{0.00}\Lb{991}{140}{246206}{0.00}
\end{scope}
% row 34
\begin{scope}[shift={(0,4999)}]
\Four
\su{r}{31}{256}\su{y}{31}{256}\su{y}{271}{991}\ns{r}{31}\ns{y}{31,271}
\Tp{31}{137}\Tp{91.4}{133}\Tp{151.5}{129}\Tp{211.6}{125}\Tp{271}{125}
\Mn{31}{143}\Mn{271}{144}\Mn{511}{145}\Mn{751}{146}
\Lb{271}{140}{247046}{0.00}\Lb{511}{73}{247484}{0.00}\Lb{751}{48}{247772}{0.00}\Lb{991}{48}{248060}{0.00}
\end{scope}
% row 35
\begin{scope}[shift={(0,5140)}]
\Four
\su{y}{31}{991}
\Mn{31}{147}\Mn{271}{148}\Mn{511}{149}\Mn{751}{150}
\Lb{271}{48}{248348}{0.00}\Lb{511}{48}{248636}{0.00}\Lb{751}{48}{248924}{0.00}\Lb{991}{48}{249212}{0.00}
\end{scope}
% row 36
\begin{scope}[shift={(0,5281)}]
\Four
\su{y}{31}{751}
\Mn{31}{151}\Mn{271}{152}\Mn{511}{153}\Mn{751}{154}
\Lb{271}{48}{249500}{0.00}\Lb{511}{48}{249788}{0.00}\Lb{751}{48}{250076}{0.00}\Lb{991}{0}{250076}{0.00}
\end{scope}
\end{tikzpicture}
\end{document}
